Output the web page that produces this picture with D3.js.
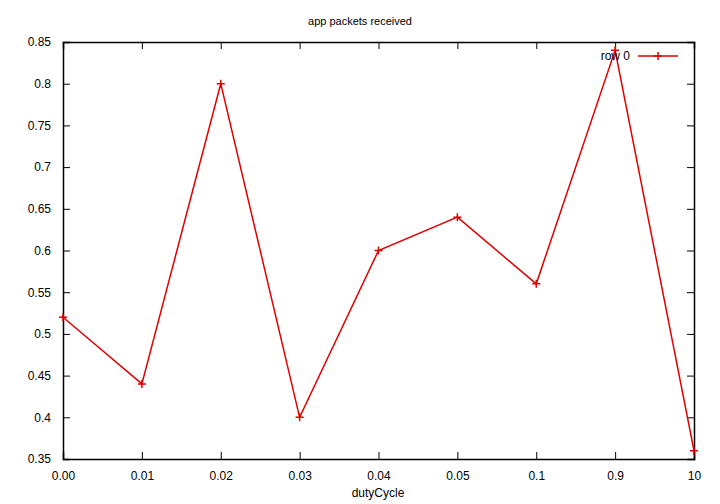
<!DOCTYPE html>
<html><head><meta charset="utf-8">
<script src="https://cdn.jsdelivr.net/npm/d3@7"></script>
<style>body{margin:0;background:#fff}text{font-family:"Liberation Sans",Arial,sans-serif;font-size:12px}</style>
</head><body><svg id="c" width="720" height="504"></svg>
<script>
var categories = ['0.00', '0.01', '0.02', '0.03', '0.04', '0.05', '0.1', '0.9', '10'];
var values = [0.52, 0.44, 0.80, 0.40, 0.60, 0.64, 0.56, 0.84, 0.36];
var yTicks = [0.35, 0.4, 0.45, 0.5, 0.55, 0.6, 0.65, 0.7, 0.75, 0.8, 0.85];

var svg = d3.select('#c');
var L = 63, R = 694, T = 42, B = 459;
var x = d3.scalePoint().domain(categories).range([L, R]);
var y = d3.scaleLinear().domain([0.35, 0.85]).range([B, T]);
var fmt = function(d) { return String(+d.toFixed(2)); };

svg.append('g').attr('transform', 'translate(0,' + B + ')')
  .call(d3.axisBottom(x).tickSize(-7).tickPadding(12));
svg.append('g').attr('transform', 'translate(0,' + T + ')')
  .call(d3.axisTop(x).tickSize(-7).tickFormat(''));
svg.append('g').attr('transform', 'translate(' + L + ',0)')
  .call(d3.axisLeft(y).tickValues(yTicks).tickSize(-7).tickPadding(12).tickFormat(fmt));
svg.append('g').attr('transform', 'translate(' + R + ',0)')
  .call(d3.axisRight(y).tickValues(yTicks).tickSize(-7).tickFormat(''));
svg.selectAll('.domain').attr('stroke', '#000').attr('stroke-width', 1.5);
svg.selectAll('.tick line').attr('stroke', '#000');
svg.selectAll('.tick text').attr('fill', '#000').style('font-size', '12px');

var line = d3.line().x(function(d, i) { return x(categories[i]); }).y(function(d) { return y(d); });
svg.append('path').datum(values).attr('d', line)
  .attr('fill', 'none').attr('stroke', '#e00000').attr('stroke-width', 1.5);
var plus = d3.symbol().type(d3.symbolCross).size(0);
svg.selectAll('.pt').data(values).enter().append('path')
  .attr('d', function(d, i) {
    var px = x(categories[i]), py = y(d);
    return 'M' + (px - 4) + ',' + py + 'H' + (px + 4) + 'M' + px + ',' + (py - 4) + 'V' + (py + 4);
  })
  .attr('stroke', '#e00000').attr('stroke-width', 1.5);

// legend
svg.append('text').attr('x', 630).attr('y', 60).attr('text-anchor', 'end').text('row 0');
svg.append('line').attr('x1', 638).attr('x2', 678).attr('y1', 56).attr('y2', 56)
  .attr('stroke', '#e00000').attr('stroke-width', 1.5);
svg.append('path').attr('d', 'M654,56H662M658,52V60').attr('stroke', '#e00000').attr('stroke-width', 1.5);

svg.append('text').attr('x', 360).attr('y', 25).attr('text-anchor', 'middle').style('font-size', '11px').text('app packets received');
svg.append('text').attr('x', 378).attr('y', 497).attr('text-anchor', 'middle').text('dutyCycle');
</script></body></html>
